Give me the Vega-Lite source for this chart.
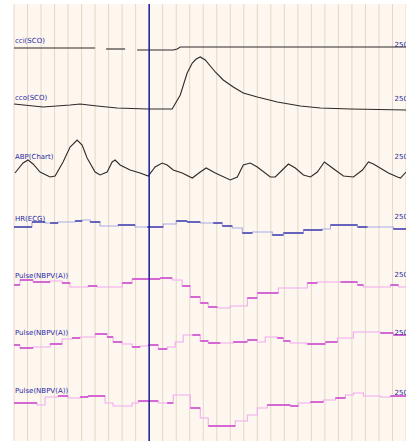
{
  "$schema": "https://vega.github.io/schema/vega-lite/v6.json",
  "width": 392,
  "height": 437,
  "autosize": {"type": "none"},
  "padding": {"left": 14, "top": 4, "right": 0, "bottom": 0},
  "background": "#ffffff",
  "view": {"fill": "#fdf7ef", "stroke": null},
  "datasets": {
    "grid": [
      {"t": 0}, {"t": 1}, {"t": 2}, {"t": 3}, {"t": 4}, {"t": 5}, {"t": 6}, {"t": 7}, {"t": 8}, {"t": 9},
      {"t": 10}, {"t": 11}, {"t": 12}, {"t": 13}, {"t": 14}, {"t": 15}, {"t": 16}, {"t": 17}, {"t": 18}, {"t": 19},
      {"t": 20}, {"t": 21}, {"t": 22}, {"t": 23}, {"t": 24}, {"t": 25}, {"t": 26}, {"t": 27}, {"t": 28}, {"t": 29}
    ],
    "curves": [
      {"seg": "cci-a", "t": 0, "v": 393}, {"seg": "cci-a", "t": 6, "v": 393},
      {"seg": "cci-b", "t": 6.81, "v": 392}, {"seg": "cci-b", "t": 8.22, "v": 392},
      {"seg": "cci-c", "t": 9.11, "v": 391}, {"seg": "cci-c", "t": 11.78, "v": 391},
      {"seg": "cci-c", "t": 12.07, "v": 392}, {"seg": "cci-c", "t": 12.3, "v": 394},
      {"seg": "cci-c", "t": 29, "v": 394},
      {"seg": "cco", "t": 0, "v": 337}, {"seg": "cco", "t": 2.15, "v": 334},
      {"seg": "cco", "t": 4.15, "v": 336}, {"seg": "cco", "t": 4.89, "v": 337},
      {"seg": "cco", "t": 6.15, "v": 335}, {"seg": "cco", "t": 7.63, "v": 333},
      {"seg": "cco", "t": 9.85, "v": 332}, {"seg": "cco", "t": 11.7, "v": 332},
      {"seg": "cco", "t": 12.3, "v": 346}, {"seg": "cco", "t": 12.81, "v": 368},
      {"seg": "cco", "t": 13.19, "v": 378}, {"seg": "cco", "t": 13.48, "v": 382},
      {"seg": "cco", "t": 13.78, "v": 384}, {"seg": "cco", "t": 14.15, "v": 381},
      {"seg": "cco", "t": 14.89, "v": 369}, {"seg": "cco", "t": 15.48, "v": 361},
      {"seg": "cco", "t": 16.22, "v": 354}, {"seg": "cco", "t": 16.96, "v": 348},
      {"seg": "cco", "t": 18, "v": 344}, {"seg": "cco", "t": 19.48, "v": 339},
      {"seg": "cco", "t": 21.19, "v": 335}, {"seg": "cco", "t": 22.67, "v": 333},
      {"seg": "cco", "t": 24.89, "v": 332}, {"seg": "cco", "t": 29, "v": 331},
      {"seg": "abp", "t": 0.07, "v": 268}, {"seg": "abp", "t": 0.67, "v": 278},
      {"seg": "abp", "t": 1.04, "v": 281}, {"seg": "abp", "t": 1.41, "v": 277},
      {"seg": "abp", "t": 1.93, "v": 269}, {"seg": "abp", "t": 2.67, "v": 264},
      {"seg": "abp", "t": 3.04, "v": 265}, {"seg": "abp", "t": 3.63, "v": 279},
      {"seg": "abp", "t": 4.15, "v": 294}, {"seg": "abp", "t": 4.67, "v": 301},
      {"seg": "abp", "t": 5.04, "v": 296}, {"seg": "abp", "t": 5.41, "v": 283},
      {"seg": "abp", "t": 6, "v": 269}, {"seg": "abp", "t": 6.37, "v": 266},
      {"seg": "abp", "t": 6.89, "v": 269}, {"seg": "abp", "t": 7.26, "v": 279},
      {"seg": "abp", "t": 7.48, "v": 281}, {"seg": "abp", "t": 7.85, "v": 276},
      {"seg": "abp", "t": 8.59, "v": 271}, {"seg": "abp", "t": 9.33, "v": 268},
      {"seg": "abp", "t": 9.93, "v": 265}, {"seg": "abp", "t": 10.44, "v": 274},
      {"seg": "abp", "t": 10.96, "v": 278}, {"seg": "abp", "t": 11.33, "v": 276},
      {"seg": "abp", "t": 11.78, "v": 271}, {"seg": "abp", "t": 12.44, "v": 268},
      {"seg": "abp", "t": 13.19, "v": 263}, {"seg": "abp", "t": 13.78, "v": 269},
      {"seg": "abp", "t": 14.22, "v": 273}, {"seg": "abp", "t": 14.89, "v": 268},
      {"seg": "abp", "t": 16, "v": 261}, {"seg": "abp", "t": 16.52, "v": 264},
      {"seg": "abp", "t": 16.96, "v": 276}, {"seg": "abp", "t": 17.48, "v": 278},
      {"seg": "abp", "t": 18, "v": 274}, {"seg": "abp", "t": 18.96, "v": 264},
      {"seg": "abp", "t": 19.33, "v": 264}, {"seg": "abp", "t": 19.85, "v": 271},
      {"seg": "abp", "t": 20.3, "v": 277}, {"seg": "abp", "t": 20.81, "v": 273},
      {"seg": "abp", "t": 21.41, "v": 266}, {"seg": "abp", "t": 21.93, "v": 264},
      {"seg": "abp", "t": 22.44, "v": 269}, {"seg": "abp", "t": 22.96, "v": 279},
      {"seg": "abp", "t": 23.56, "v": 273}, {"seg": "abp", "t": 24.37, "v": 265},
      {"seg": "abp", "t": 25.11, "v": 264}, {"seg": "abp", "t": 25.78, "v": 271},
      {"seg": "abp", "t": 26.22, "v": 279}, {"seg": "abp", "t": 26.59, "v": 277},
      {"seg": "abp", "t": 26.96, "v": 274}, {"seg": "abp", "t": 27.7, "v": 268},
      {"seg": "abp", "t": 28.37, "v": 264}, {"seg": "abp", "t": 28.59, "v": 263},
      {"seg": "abp", "t": 29, "v": 269}
    ],
    "steps": [
      {"trace": "HR", "t": 0, "t2": 1.33, "v": 214, "tone": "d"},
      {"trace": "HR", "t": 1.33, "t2": 2.3, "v": 219, "tone": "d"},
      {"trace": "HR", "t": 2.3, "t2": 2.67, "v": 218, "tone": "l"},
      {"trace": "HR", "t": 2.67, "t2": 3.26, "v": 218, "tone": "d"},
      {"trace": "HR", "t": 3.26, "t2": 4.52, "v": 219, "tone": "l"},
      {"trace": "HR", "t": 4.52, "t2": 5.04, "v": 220, "tone": "d"},
      {"trace": "HR", "t": 5.04, "t2": 5.63, "v": 221, "tone": "l"},
      {"trace": "HR", "t": 5.63, "t2": 6.37, "v": 219, "tone": "d"},
      {"trace": "HR", "t": 6.37, "t2": 7.7, "v": 215, "tone": "l"},
      {"trace": "HR", "t": 7.7, "t2": 8.96, "v": 216, "tone": "d"},
      {"trace": "HR", "t": 8.96, "t2": 9.85, "v": 214, "tone": "l"},
      {"trace": "HR", "t": 9.85, "t2": 11.04, "v": 214, "tone": "d"},
      {"trace": "HR", "t": 11.04, "t2": 12, "v": 217, "tone": "l"},
      {"trace": "HR", "t": 12, "t2": 12.81, "v": 220, "tone": "d"},
      {"trace": "HR", "t": 12.81, "t2": 13.78, "v": 219, "tone": "d"},
      {"trace": "HR", "t": 13.78, "t2": 14.74, "v": 218, "tone": "l"},
      {"trace": "HR", "t": 14.74, "t2": 15.41, "v": 218, "tone": "d"},
      {"trace": "HR", "t": 15.41, "t2": 16.15, "v": 215, "tone": "d"},
      {"trace": "HR", "t": 16.15, "t2": 16.89, "v": 213, "tone": "l"},
      {"trace": "HR", "t": 16.89, "t2": 17.63, "v": 208, "tone": "d"},
      {"trace": "HR", "t": 17.63, "t2": 19.11, "v": 209, "tone": "l"},
      {"trace": "HR", "t": 19.11, "t2": 19.93, "v": 206, "tone": "d"},
      {"trace": "HR", "t": 19.93, "t2": 21.41, "v": 208, "tone": "d"},
      {"trace": "HR", "t": 21.41, "t2": 22.81, "v": 211, "tone": "d"},
      {"trace": "HR", "t": 22.81, "t2": 23.41, "v": 212, "tone": "l"},
      {"trace": "HR", "t": 23.41, "t2": 25.41, "v": 216, "tone": "d"},
      {"trace": "HR", "t": 25.41, "t2": 26.15, "v": 214, "tone": "d"},
      {"trace": "HR", "t": 26.15, "t2": 28.07, "v": 214, "tone": "l"},
      {"trace": "HR", "t": 28.07, "t2": 29, "v": 212, "tone": "d"},
      {"trace": "HR", "t": 29, "t2": 29, "v": 212, "tone": "d"},
      {"trace": "P1", "t": 0, "t2": 0.44, "v": 156, "tone": "d"},
      {"trace": "P1", "t": 0.44, "t2": 1.41, "v": 161, "tone": "d"},
      {"trace": "P1", "t": 1.41, "t2": 2.67, "v": 159, "tone": "d"},
      {"trace": "P1", "t": 2.67, "t2": 3.56, "v": 160, "tone": "l"},
      {"trace": "P1", "t": 3.56, "t2": 4.15, "v": 158, "tone": "d"},
      {"trace": "P1", "t": 4.15, "t2": 5.48, "v": 154, "tone": "l"},
      {"trace": "P1", "t": 5.48, "t2": 6.15, "v": 155, "tone": "d"},
      {"trace": "P1", "t": 6.15, "t2": 8, "v": 154, "tone": "l"},
      {"trace": "P1", "t": 8, "t2": 8.74, "v": 158, "tone": "d"},
      {"trace": "P1", "t": 8.74, "t2": 10.81, "v": 162, "tone": "d"},
      {"trace": "P1", "t": 10.81, "t2": 11.7, "v": 163, "tone": "d"},
      {"trace": "P1", "t": 11.7, "t2": 12.44, "v": 161, "tone": "l"},
      {"trace": "P1", "t": 12.44, "t2": 13.04, "v": 155, "tone": "d"},
      {"trace": "P1", "t": 13.04, "t2": 13.78, "v": 144, "tone": "d"},
      {"trace": "P1", "t": 13.78, "t2": 14.37, "v": 138, "tone": "d"},
      {"trace": "P1", "t": 14.37, "t2": 15.04, "v": 134, "tone": "d"},
      {"trace": "P1", "t": 15.04, "t2": 16, "v": 133, "tone": "l"},
      {"trace": "P1", "t": 16, "t2": 17.26, "v": 135, "tone": "l"},
      {"trace": "P1", "t": 17.26, "t2": 18, "v": 143, "tone": "d"},
      {"trace": "P1", "t": 18, "t2": 19.56, "v": 148, "tone": "d"},
      {"trace": "P1", "t": 19.56, "t2": 21.7, "v": 153, "tone": "l"},
      {"trace": "P1", "t": 21.7, "t2": 22.44, "v": 158, "tone": "d"},
      {"trace": "P1", "t": 22.44, "t2": 24.15, "v": 159, "tone": "l"},
      {"trace": "P1", "t": 24.15, "t2": 25.41, "v": 159, "tone": "d"},
      {"trace": "P1", "t": 25.41, "t2": 25.85, "v": 156, "tone": "d"},
      {"trace": "P1", "t": 25.85, "t2": 27.85, "v": 154, "tone": "l"},
      {"trace": "P1", "t": 27.85, "t2": 28.44, "v": 156, "tone": "d"},
      {"trace": "P1", "t": 28.44, "t2": 29, "v": 154, "tone": "l"},
      {"trace": "P1", "t": 29, "t2": 29, "v": 154, "tone": "l"},
      {"trace": "P2", "t": 0, "t2": 0.44, "v": 96, "tone": "d"},
      {"trace": "P2", "t": 0.44, "t2": 1.41, "v": 93, "tone": "d"},
      {"trace": "P2", "t": 1.41, "t2": 2.67, "v": 94, "tone": "l"},
      {"trace": "P2", "t": 2.67, "t2": 3.56, "v": 97, "tone": "d"},
      {"trace": "P2", "t": 3.56, "t2": 4.3, "v": 102, "tone": "l"},
      {"trace": "P2", "t": 4.3, "t2": 4.89, "v": 103, "tone": "d"},
      {"trace": "P2", "t": 4.89, "t2": 6, "v": 104, "tone": "l"},
      {"trace": "P2", "t": 6, "t2": 6.89, "v": 107, "tone": "d"},
      {"trace": "P2", "t": 6.89, "t2": 7.33, "v": 104, "tone": "d"},
      {"trace": "P2", "t": 7.33, "t2": 8, "v": 99, "tone": "d"},
      {"trace": "P2", "t": 8, "t2": 8.74, "v": 97, "tone": "l"},
      {"trace": "P2", "t": 8.74, "t2": 9.33, "v": 94, "tone": "d"},
      {"trace": "P2", "t": 9.33, "t2": 9.93, "v": 95, "tone": "l"},
      {"trace": "P2", "t": 9.93, "t2": 10.67, "v": 96, "tone": "d"},
      {"trace": "P2", "t": 10.67, "t2": 11.33, "v": 92, "tone": "d"},
      {"trace": "P2", "t": 11.33, "t2": 11.93, "v": 94, "tone": "l"},
      {"trace": "P2", "t": 11.93, "t2": 12.52, "v": 99, "tone": "l"},
      {"trace": "P2", "t": 12.52, "t2": 13.19, "v": 106, "tone": "l"},
      {"trace": "P2", "t": 13.19, "t2": 13.78, "v": 106, "tone": "d"},
      {"trace": "P2", "t": 13.78, "t2": 14.37, "v": 100, "tone": "d"},
      {"trace": "P2", "t": 14.37, "t2": 15.26, "v": 98, "tone": "d"},
      {"trace": "P2", "t": 15.26, "t2": 16.22, "v": 98, "tone": "l"},
      {"trace": "P2", "t": 16.22, "t2": 17.26, "v": 99, "tone": "d"},
      {"trace": "P2", "t": 17.26, "t2": 18, "v": 101, "tone": "d"},
      {"trace": "P2", "t": 18, "t2": 18.59, "v": 99, "tone": "l"},
      {"trace": "P2", "t": 18.59, "t2": 19.48, "v": 104, "tone": "l"},
      {"trace": "P2", "t": 19.48, "t2": 19.93, "v": 103, "tone": "d"},
      {"trace": "P2", "t": 19.93, "t2": 20.44, "v": 100, "tone": "d"},
      {"trace": "P2", "t": 20.44, "t2": 21.7, "v": 98, "tone": "l"},
      {"trace": "P2", "t": 21.7, "t2": 23.04, "v": 97, "tone": "d"},
      {"trace": "P2", "t": 23.04, "t2": 23.93, "v": 99, "tone": "d"},
      {"trace": "P2", "t": 23.93, "t2": 25.11, "v": 103, "tone": "l"},
      {"trace": "P2", "t": 25.11, "t2": 27.11, "v": 109, "tone": "l"},
      {"trace": "P2", "t": 27.11, "t2": 28.07, "v": 108, "tone": "d"},
      {"trace": "P2", "t": 28.07, "t2": 29, "v": 106, "tone": "d"},
      {"trace": "P2", "t": 29, "t2": 29, "v": 106, "tone": "d"},
      {"trace": "P3", "t": 0, "t2": 1.7, "v": 38, "tone": "d"},
      {"trace": "P3", "t": 1.7, "t2": 2.3, "v": 36, "tone": "l"},
      {"trace": "P3", "t": 2.3, "t2": 3.26, "v": 44, "tone": "l"},
      {"trace": "P3", "t": 3.26, "t2": 4, "v": 45, "tone": "d"},
      {"trace": "P3", "t": 4, "t2": 4.89, "v": 43, "tone": "l"},
      {"trace": "P3", "t": 4.89, "t2": 5.48, "v": 44, "tone": "d"},
      {"trace": "P3", "t": 5.48, "t2": 6.74, "v": 45, "tone": "d"},
      {"trace": "P3", "t": 6.74, "t2": 7.33, "v": 38, "tone": "l"},
      {"trace": "P3", "t": 7.33, "t2": 8.74, "v": 35, "tone": "l"},
      {"trace": "P3", "t": 8.74, "t2": 9.19, "v": 38, "tone": "l"},
      {"trace": "P3", "t": 9.19, "t2": 10.67, "v": 40, "tone": "d"},
      {"trace": "P3", "t": 10.67, "t2": 11.33, "v": 38, "tone": "l"},
      {"trace": "P3", "t": 11.33, "t2": 11.78, "v": 38, "tone": "d"},
      {"trace": "P3", "t": 11.78, "t2": 13.04, "v": 46, "tone": "l"},
      {"trace": "P3", "t": 13.04, "t2": 13.78, "v": 33, "tone": "d"},
      {"trace": "P3", "t": 13.78, "t2": 14.37, "v": 23, "tone": "l"},
      {"trace": "P3", "t": 14.37, "t2": 16.37, "v": 15, "tone": "d"},
      {"trace": "P3", "t": 16.37, "t2": 17.26, "v": 20, "tone": "l"},
      {"trace": "P3", "t": 17.26, "t2": 18, "v": 26, "tone": "l"},
      {"trace": "P3", "t": 18, "t2": 18.74, "v": 33, "tone": "l"},
      {"trace": "P3", "t": 18.74, "t2": 20.44, "v": 36, "tone": "d"},
      {"trace": "P3", "t": 20.44, "t2": 21.04, "v": 35, "tone": "d"},
      {"trace": "P3", "t": 21.04, "t2": 21.93, "v": 38, "tone": "l"},
      {"trace": "P3", "t": 21.93, "t2": 22.89, "v": 39, "tone": "d"},
      {"trace": "P3", "t": 22.89, "t2": 23.78, "v": 41, "tone": "l"},
      {"trace": "P3", "t": 23.78, "t2": 24.52, "v": 43, "tone": "d"},
      {"trace": "P3", "t": 24.52, "t2": 25.11, "v": 46, "tone": "l"},
      {"trace": "P3", "t": 25.11, "t2": 25.85, "v": 48, "tone": "l"},
      {"trace": "P3", "t": 25.85, "t2": 27.11, "v": 45, "tone": "l"},
      {"trace": "P3", "t": 27.11, "t2": 27.85, "v": 44, "tone": "l"},
      {"trace": "P3", "t": 27.85, "t2": 29, "v": 45, "tone": "d"},
      {"trace": "P3", "t": 29, "t2": 29, "v": 45, "tone": "d"}
    ],
    "labels": [
      {"label": "cci(SCO)", "v": 400, "right": "250", "rv": 396},
      {"label": "cco(SCO)", "v": 343, "right": "250", "rv": 342},
      {"label": "ABP(Chart)", "v": 284, "right": "250", "rv": 284},
      {"label": "HR(ECG)", "v": 222, "right": "250", "rv": 224},
      {"label": "Pulse(NBPV(A))", "v": 165, "right": "250", "rv": 166},
      {"label": "Pulse(NBPV(A))", "v": 108, "right": "250", "rv": 108},
      {"label": "Pulse(NBPV(A))", "v": 50, "right": "250", "rv": 48}
    ],
    "cursor": [{"t": 10}]
  },
  "layer": [
    {
      "data": {"name": "grid"},
      "mark": {"type": "rule", "color": "#e4d8c6", "strokeWidth": 1},
      "encoding": {
        "x": {"field": "t", "type": "quantitative", "scale": {"domain": [0, 29], "nice": false, "zero": false}, "axis": null}
      }
    },
    {
      "data": {"name": "curves"},
      "mark": {"type": "line", "strokeWidth": 1.1, "color": "#2e2a28"},
      "encoding": {
        "x": {"field": "t", "type": "quantitative", "axis": null},
        "y": {
          "field": "v", "type": "quantitative",
          "scale": {"domain": [0, 437], "nice": false, "zero": false},
          "axis": null
        },
        "detail": {"field": "seg"}
      }
    },
    {
      "data": {"name": "steps"},
      "mark": {"type": "line", "interpolate": "step-after", "strokeWidth": 1.1},
      "encoding": {
        "x": {"field": "t", "type": "quantitative", "axis": null},
        "y": {"field": "v", "type": "quantitative", "axis": null},
        "detail": {"field": "trace"},
        "color": {"condition": {"test": "datum.trace === 'HR'", "value": "#aaaae4"}, "value": "#f2aaf0"}
      }
    },
    {
      "data": {"name": "steps"},
      "transform": [{"filter": "datum.tone === 'd'"}],
      "mark": {"type": "rule", "strokeWidth": 1.3},
      "encoding": {
        "x": {"field": "t", "type": "quantitative", "axis": null},
        "x2": {"field": "t2"},
        "y": {"field": "v", "type": "quantitative", "axis": null},
        "color": {"condition": {"test": "datum.trace === 'HR'", "value": "#2a2aa6"}, "value": "#c232c4"}
      }
    },
    {
      "data": {"name": "cursor"},
      "mark": {"type": "rule", "color": "#1c1ca2", "strokeWidth": 1.5},
      "encoding": {"x": {"field": "t", "type": "quantitative", "axis": null}}
    },
    {
      "data": {"name": "labels"},
      "mark": {"type": "text", "align": "left", "baseline": "middle", "font": "DejaVu Sans", "fontSize": 7, "color": "#2a2aa6"},
      "encoding": {
        "x": {"datum": 0.07},
        "y": {"field": "v", "type": "quantitative", "axis": null},
        "text": {"field": "label"}
      }
    },
    {
      "data": {"name": "labels"},
      "mark": {"type": "text", "align": "left", "baseline": "middle", "font": "DejaVu Sans", "fontSize": 7, "color": "#2a2aa6", "clip": true},
      "encoding": {
        "x": {"datum": 28.15},
        "y": {"field": "rv", "type": "quantitative", "axis": null},
        "text": {"field": "right"}
      }
    }
  ]
}
